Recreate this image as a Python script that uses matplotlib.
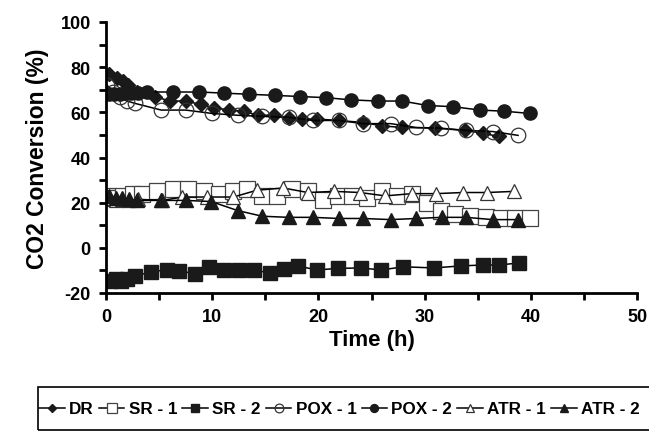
import matplotlib
matplotlib.use("Agg")
import matplotlib.pyplot as plt
from matplotlib.patches import Rectangle
from matplotlib.ticker import MultipleLocator

plt.rcParams["font.family"] = ["Liberation Sans", "DejaVu Sans"]
plt.rcParams["font.weight"] = "bold"
plt.rcParams["axes.unicode_minus"] = False

# DATA

dr_x = [0.3, 1.0, 1.6, 2.1, 2.9, 4.6, 6.0, 7.5, 8.9, 10.2, 11.6, 13.0, 14.3,
        15.8, 17.2, 18.5, 19.9, 21.9, 24.2, 26.0, 27.9, 31.0, 33.8, 35.5, 37.0]
dr_y = [77, 75, 74, 72, 69, 67, 65, 65, 63.5, 62, 61, 60.5, 58.7,
        58.7, 57.3, 57, 57, 56.4, 55.5, 54, 53.3, 53, 52, 50.7, 49.3]

sr1_x = [0.2, 0.7, 1.1, 1.6, 2.5, 3.4, 4.8, 6.3, 7.7, 9.2, 10.6, 12.0, 13.3,
         14.7, 16.1, 17.5, 19.0, 20.4, 21.8, 23.2, 24.6, 26.0, 27.4, 28.8,
         30.2, 31.5, 32.9, 34.3, 35.8, 37.2, 38.5, 39.9]
sr1_y = [23, 22, 22, 23, 24, 24, 25, 26, 26, 25, 24, 25, 26,
         23, 23, 26, 25, 21, 23, 23, 22, 25, 23, 24,
         20, 16.5, 15, 14, 13.5, 13, 13, 13]

sr2_x = [0.4, 0.9, 1.4, 2.0, 2.7, 4.2, 5.7, 6.9, 8.4, 9.7, 11.1, 12.5, 13.9,
         15.4, 16.8, 18.1, 19.9, 21.8, 24.0, 25.9, 28.0, 30.9, 33.4, 35.5,
         37.0, 38.9]
sr2_y = [-14.7, -13.8, -14.5, -14, -12.4, -10.8, -9.6, -10.3, -11.4, -8.5,
         -10, -9.6, -9.8, -11.1, -9.3, -8.1, -9.8, -9.1, -8.9, -9.8, -8.4,
         -8.9, -8, -7.6, -7.6, -6.7]

pox1_x = [0.1, 0.7, 1.3, 2.0, 2.7, 5.2, 7.5, 10.0, 12.4, 14.7, 17.2, 19.5,
          21.9, 24.2, 26.8, 29.2, 31.5, 33.9, 36.4, 38.8]
pox1_y = [72, 69, 67, 65, 64, 61, 61, 59.5, 58.7, 58.2, 57.8, 56.4,
          56.4, 55, 55, 53.3, 53, 52, 51.5, 49.8]

pox2_x = [0.3, 0.8, 1.3, 1.8, 2.4, 3.0, 3.9, 6.3, 8.8, 11.1, 13.5, 15.9,
          18.3, 20.7, 23.1, 25.6, 27.9, 30.3, 32.7, 35.2, 37.5, 39.9]
pox2_y = [68, 68, 68, 68.5, 68.5, 68.5, 69, 69, 69, 68.5, 68, 67.5,
          67, 66.5, 65.5, 65, 65, 63, 62.5, 61, 60.5, 59.5]

atr1_x = [0.3, 0.9, 1.5, 2.2, 3.0, 5.3, 7.2, 9.5, 12.0, 14.2, 16.7, 19.0,
          21.5, 23.9, 26.3, 28.8, 31.1, 33.6, 35.9, 38.4]
atr1_y = [22, 21, 21.5, 21, 21.5, 21, 22.5, 22.5, 22.5, 25.5, 26.5, 24.5,
          25, 24.5, 23, 24, 24, 24.5, 24.5, 25]

atr2_x = [0.3, 0.9, 1.5, 2.2, 2.9, 5.2, 7.5, 9.9, 12.4, 14.7, 17.2, 19.5,
          21.9, 24.2, 26.8, 29.2, 31.6, 33.9, 36.4, 38.8]
atr2_y = [23, 22, 22, 21.5, 21, 21, 21, 20.5, 16.5, 14, 13.5, 13.5,
          13, 13, 12.5, 13, 13.5, 13.5, 12.5, 12.5]

labels = ["DR", "SR - 1", "SR - 2", "POX - 1", "POX - 2", "ATR - 1", "ATR - 2"]


def main():

    fig = plt.figure(figsize=(6.49, 4.35), dpi=100)

    ax = fig.add_axes([106 / 649, 1 - 294 / 435, 531 / 649, 271 / 435])

    line = dict(color="black", linewidth=1.1)

    ax.plot(dr_x, dr_y, marker="D", markersize=7, markerfacecolor="#1a1a1a",
            markeredgecolor="#1a1a1a", label=labels[0], **line)

    ax.plot(sr1_x, sr1_y, marker="s", markersize=11, markerfacecolor="white",
            markeredgecolor="#444444", markeredgewidth=0.9,
            label=labels[1], **line)

    ax.plot(sr2_x, sr2_y, marker="s", markersize=10, markerfacecolor="#1a1a1a",
            markeredgecolor="#1a1a1a", label=labels[2], **line)

    ax.plot(pox1_x, pox1_y, marker="o", markersize=10.5, markerfacecolor="none",
            markeredgecolor="#333333", markeredgewidth=0.9,
            label=labels[3], **line)

    ax.plot(pox2_x, pox2_y, marker="o", markersize=9.5,
            markerfacecolor="#1a1a1a", markeredgecolor="#1a1a1a",
            label=labels[4], **line)

    ax.plot(atr1_x, atr1_y, marker="^", markersize=10.5,
            markerfacecolor="white", markeredgecolor="#333333",
            markeredgewidth=0.9, label=labels[5], **line)

    ax.plot(atr2_x, atr2_y, marker="^", markersize=9.5,
            markerfacecolor="#1a1a1a", markeredgecolor="#1a1a1a",
            label=labels[6], **line)

    # AXES

    ax.set_xlim(0, 50)
    ax.set_ylim(-20, 100)

    ax.xaxis.set_major_locator(MultipleLocator(10))
    ax.xaxis.set_minor_locator(MultipleLocator(5))
    ax.yaxis.set_major_locator(MultipleLocator(20))
    ax.yaxis.set_minor_locator(MultipleLocator(10))

    for side in ["top", "right"]:
        ax.spines[side].set_visible(False)

    for side in ["left", "bottom"]:
        ax.spines[side].set_linewidth(2)

    ax.tick_params(which="both", direction="out", length=5, width=2,
                   labelsize=13, pad=6)

    for lab in ax.get_xticklabels() + ax.get_yticklabels():
        lab.set_fontweight("bold")

    ax.set_xlabel("Time (h)", fontsize=16, fontweight="bold", labelpad=3)
    ax.set_ylabel("CO2 Conversion (%)", fontsize=16.5, fontweight="bold",
                  labelpad=8)

    # LEGEND

    leg = fig.legend(
        loc="center left",
        bbox_to_anchor=(39 / 649, 1 - 410 / 435),
        ncol=7,
        fontsize=12.3,
        markerscale=0.6,
        handlelength=1.5,
        handletextpad=0.25,
        columnspacing=0.3,
        borderpad=0,
        borderaxespad=0,
        frameon=False,
    )

    for t in leg.get_texts():
        t.set_fontweight("bold")

    # LEGEND BOX (runs off the right edge, as in the original)

    fig.patches.append(
        Rectangle(
            (38 / 649, 1 - 431 / 435),
            640 / 649,
            43 / 435,
            transform=fig.transFigure,
            fill=False,
            edgecolor="black",
            linewidth=1.2,
        )
    )

    fig.savefig("out.png", dpi=100)


if __name__ == "__main__":

    main()
